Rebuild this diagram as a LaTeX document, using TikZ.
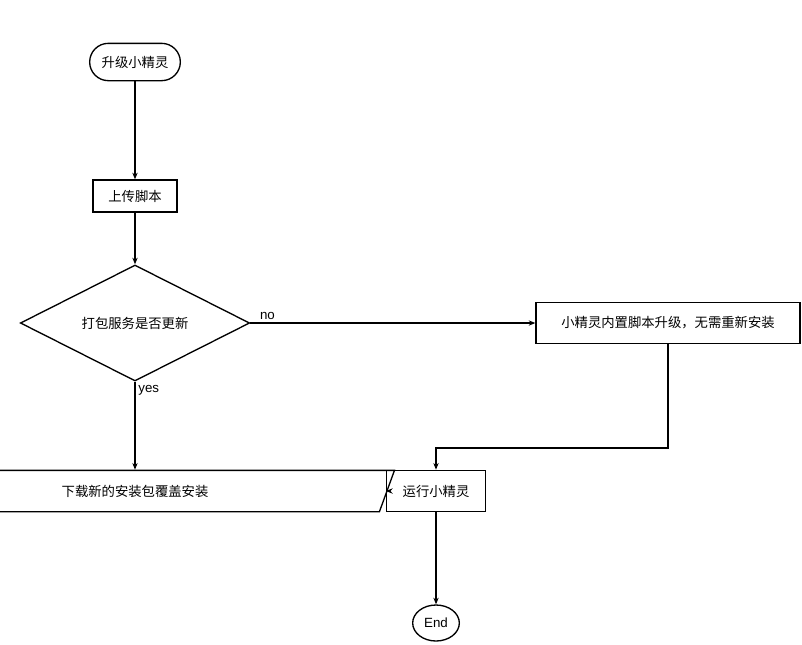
\documentclass[tikz,border=0pt]{standalone}
\usepackage{fontspec}
\setmainfont{Liberation Sans}
\newfontfamily\cjk{Noto Sans CJK SC}
\usetikzlibrary{positioning, shapes, shapes.geometric, arrows.meta}

\begin{document}
\begin{tikzpicture}[x=0.75pt, y=-0.75pt, >={Stealth[length=5pt,width=4pt]},
		every node/.style={draw, line width=1pt, font=\cjk\fontsize{10}{12}\selectfont, inner sep=2pt},
		line/.style={->, line width=0.8pt}]

			\useasboundingbox (0,0) rectangle (802,644);

			% Nodes of the flow
			\node (start) [rounded rectangle, minimum width=72pt, minimum height=28pt] at (135,62) {升级小精灵};
			\node (upload) [rectangle, minimum width=63pt, minimum height=24pt] at (135,196) {上传脚本};
			\node (check) [diamond, aspect=2, minimum width=172pt, minimum height=87pt, inner sep=0pt] at (135,323) {打包服务是否更新};
			\node (inner) [rectangle, minimum width=198pt, minimum height=31pt] at (668,323) {小精灵内置脚本升级，无需重新安装};
			\node (install) [trapezium, trapezium left angle=70, trapezium right angle=110, minimum width=171pt, minimum height=31pt, inner sep=0pt] at (135,491) {下载新的安装包覆盖安装};
			\node (run) [rectangle, minimum width=74pt, minimum height=31pt] at (436,491) {运行小精灵};
			\node (end) [ellipse, minimum width=35pt, minimum height=27pt, font=\fontsize{10}{12}\selectfont] at (436,623) {End};

			% Arrows
			\draw[line] (start) -- (upload);
			\draw[line] (upload) -- (check);
			\draw[line] (check.east) -- (inner.west) node[pos=0.06, above, draw=none, font=\fontsize{10}{12}\selectfont] {no};
			\draw[line] (check.south) -- (install) node[pos=0.1, right, draw=none, font=\fontsize{10}{12}\selectfont] {yes};
			\draw[line] (inner.south) |- (436,448) -- (run.north);
			\draw[line] (install) -- (run);
			\draw[line] (run) -- (end);

		\end{tikzpicture}
\end{document}
